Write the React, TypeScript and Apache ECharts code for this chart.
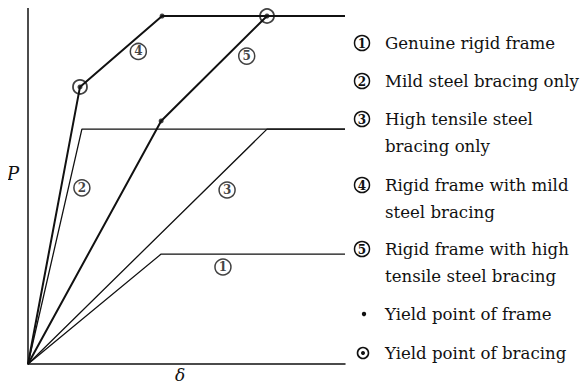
import React, { useEffect, useRef } from "react";
import * as echarts from "echarts";

// Load–deflection curves (δ, P) in arbitrary units
const curve1: [number, number][] = [[0, 0], [4.2, 3.07], [10, 3.07]];
const curve2: [number, number][] = [[0, 0], [1.7, 6.56], [10, 6.56]];
const curve3: [number, number][] = [[0, 0], [7.54, 6.56], [10, 6.56]];
const curve4: [number, number][] = [[0, 0], [1.64, 7.74], [4.23, 9.72], [10, 9.72]];
const curve5: [number, number][] = [[0, 0], [4.2, 6.79], [7.54, 9.72], [10, 9.72]];

const frameYield: [number, number][] = [[4.23, 9.72], [4.2, 6.79]];
const bracingYield: [number, number][] = [[1.64, 7.74], [7.54, 9.72]];

const curveTags = ["1", "2", "3", "4", "5"];
const tagPos: [number, number][] = [[6.15, 2.71], [1.7, 4.92], [6.28, 4.86], [3.48, 8.73], [6.9, 8.6]];

const legendSymbols = ["1", "2", "3", "", "4", "", "5", "", "dot", "ring"];
const legendLines = [
  "Genuine rigid frame",
  "Mild steel bracing only",
  "High tensile steel",
  "bracing only",
  "Rigid frame with mild",
  "steel bracing",
  "Rigid frame with high",
  "tensile steel bracing",
  "Yield point of frame",
  "Yield point of bracing",
];
const legendY = [43, 81, 119, 146, 185, 212, 249, 276, 314, 353];

const FONT = "'DejaVu Serif', 'Liberation Serif', serif";

export default function App() {
  const ref = useRef<HTMLDivElement>(null);
  useEffect(() => {
    if (!ref.current) return;
    const chart = echarts.init(ref.current, null, { renderer: "svg" });
    const lineSeries = (data: [number, number][], w: number) => ({
      type: "line",
      data,
      symbol: "none",
      lineStyle: { color: "#111", width: w },
      silent: true,
    });
    const graphics: any[] = [];
    legendLines.forEach((t, i) => {
      const s = legendSymbols[i];
      const y = legendY[i];
      if (s === "dot") {
        graphics.push({ type: "circle", shape: { cx: 364, cy: y, r: 2.2 }, style: { fill: "#111" } });
      } else if (s === "ring") {
        graphics.push({ type: "circle", shape: { cx: 363, cy: y, r: 5.5 }, style: { fill: "none", stroke: "#111", lineWidth: 1.6 } });
        graphics.push({ type: "circle", shape: { cx: 363, cy: y, r: 2 }, style: { fill: "#111" } });
      } else if (s) {
        graphics.push({ type: "circle", shape: { cx: 362, cy: y, r: 7.5 }, style: { fill: "none", stroke: "#111", lineWidth: 1.5 } });
        graphics.push({
          type: "text",
          x: 362,
          y: y + 0.5,
          style: { text: s, font: `bold 12px ${FONT}`, fill: "#111", align: "center", verticalAlign: "middle" },
        });
      }
      graphics.push({
        type: "text",
        x: 385,
        y,
        style: { text: t, font: `16.6px ${FONT}`, fill: "#111", verticalAlign: "middle" },
      });
    });
    graphics.push({
      type: "text",
      x: 13,
      y: 173,
      style: { text: "P", font: `italic 18px ${FONT}`, fill: "#111", align: "center", verticalAlign: "middle" },
    });
    graphics.push({
      type: "text",
      x: 180,
      y: 375,
      style: { text: "δ", font: `italic 17px ${FONT}`, fill: "#111", align: "center", verticalAlign: "middle" },
    });
    chart.setOption({
      animation: false,
      backgroundColor: "#fff",
      grid: { left: 28, top: 6, right: 243, bottom: 25 },
      xAxis: {
        type: "value",
        min: 0,
        max: 10,
        axisLine: { lineStyle: { color: "#111", width: 1.5 } },
        axisTick: { show: false },
        axisLabel: { show: false },
        splitLine: { show: false },
      },
      yAxis: {
        type: "value",
        min: 0,
        max: 10,
        axisLine: { show: true, lineStyle: { color: "#111", width: 1.5 } },
        axisTick: { show: false },
        axisLabel: { show: false },
        splitLine: { show: false },
      },
      series: [
        lineSeries(curve1, 1.3),
        lineSeries(curve2, 1.3),
        lineSeries(curve3, 1.3),
        lineSeries(curve4, 2),
        lineSeries(curve5, 2),
        {
          type: "scatter",
          data: bracingYield,
          symbol: "circle",
          symbolSize: 14,
          itemStyle: { color: "rgba(0,0,0,0)", borderColor: "#111", borderWidth: 1.8 },
          silent: true,
          z: 5,
        },
        {
          type: "scatter",
          data: [...frameYield, ...bracingYield],
          symbol: "circle",
          symbolSize: 5,
          itemStyle: { color: "#111" },
          silent: true,
          z: 6,
        },
        {
          type: "scatter",
          data: tagPos.map((p, i) => ({ value: p, name: curveTags[i] })),
          symbol: "circle",
          symbolSize: 16,
          itemStyle: { color: "rgba(0,0,0,0)", borderColor: "#111", borderWidth: 1.5 },
          silent: true,
          label: {
            show: true,
            position: "inside",
            formatter: (p: any) => p.name,
            fontFamily: FONT,
            fontWeight: "bold",
            fontSize: 12,
            color: "#111",
          },
        },
      ],
      graphic: graphics,
    });
    return () => chart.dispose();
  }, []);
  return <div ref={ref} style={{ width: 588, height: 389, margin: -8 }} />;
}
